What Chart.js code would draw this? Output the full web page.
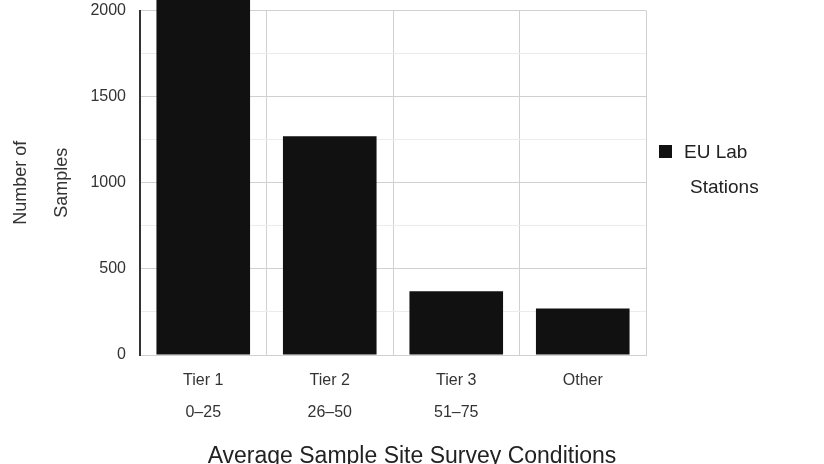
<!DOCTYPE html>
<html>
<head>
<meta charset="utf-8">
<script src="https://cdn.jsdelivr.net/npm/chart.js@4.4.1/dist/chart.umd.min.js"></script>
<style>
  body { margin: 0; background: #fff; font-family: Arial, "Liberation Sans", sans-serif; }
  #wrap { position: relative; width: 824px; height: 464px; overflow: hidden; }
  #barChart { position: absolute; left: 0; top: -13px; }
  #legend { position: absolute; left: 659px; top: 134px; font-size: 19px; color: #222; line-height: 35px; }
  #legend .box { display: inline-block; width: 13px; height: 13px; background: #111; margin-right: 12px; vertical-align: 0px; }
  #legend .l2 { padding-left: 31px; }
  #xtitle { position: absolute; left: 0; width: 824px; top: 442px; text-align: center; font-size: 23px; color: #222; }
</style>
</head>
<body>
<div id="wrap">
  <canvas id="barChart" width="824" height="477"></canvas>
  <div id="legend"><span class="box"></span>EU Lab<br><span class="l2">Stations</span></div>
  <div id="xtitle">Average Sample Site Survey Conditions</div>
</div>
<script>
const categories = [['Tier 1', '0–25'], ['Tier 2', '26–50'], ['Tier 3', '51–75'], 'Other'];
const stationCounts = [2300, 1270, 370, 270];
const yTicks = [0, 500, 1000, 1500, 2000];

const ctx = document.getElementById('barChart').getContext('2d');
const chart = new Chart(ctx, {
    type: 'bar',
    data: {
        labels: categories,
        datasets: [{
            label: 'EU Lab Stations',
            data: stationCounts,
            backgroundColor: '#111111',
            borderWidth: 0,
            barPercentage: 0.74,
            categoryPercentage: 1.0,
            clip: false
        }]
    },
    options: {
        responsive: false,
        animation: false,
        layout: { padding: { top: 8, right: 178, left: 0, bottom: 0 } },
        plugins: {
            legend: { display: false },
            tooltip: { enabled: false }
        },
        scales: {
            x: {
                grid: { color: '#d0d0d0', lineWidth: 1, offset: true, drawTicks: false },
                border: { color: '#d0d0d0' },
                ticks: {
                    color: '#333',
                    font: { size: 16, family: 'Arial', lineHeight: 2.0 },
                    padding: 10,
                    maxRotation: 0
                },
                afterFit: (scale) => { scale.height = 109; }
            },
            y: {
                min: 0,
                max: 2000,
                grid: {
                    color: (c) => (c.tick && c.tick.value % 500 === 0) ? '#d0d0d0' : '#ececec',
                    drawTicks: false
                },
                border: { color: '#333', width: 2 },
                ticks: {
                    stepSize: 250,
                    color: '#333',
                    font: { size: 16, family: 'Arial' },
                    padding: 14,
                    callback: (v) => yTicks.includes(v) ? v : ''
                },
                title: {
                    display: true,
                    text: ['Number of', 'Samples'],
                    color: '#333',
                    font: { size: 18, family: 'Arial', lineHeight: 2.3 },
                    padding: { top: 0, bottom: 0 }
                },
                afterFit: (scale) => { scale.width = 140; }
            }
        }
    }
});
</script>
</body>
</html>
